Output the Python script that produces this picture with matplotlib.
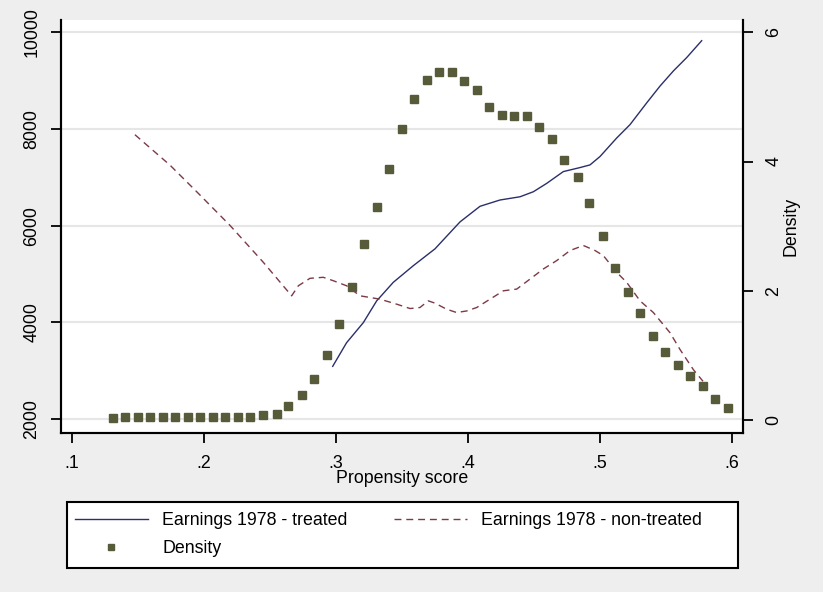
import matplotlib
matplotlib.use("Agg")
import matplotlib.pyplot as plt
from matplotlib.lines import Line2D
from matplotlib.patches import Rectangle

plt.rcParams['font.family'] = ['Liberation Sans', 'DejaVu Sans']

# earnings 1978, treated group (smoothed)
treat_x = [0.2975, 0.308, 0.3207, 0.3308, 0.3434, 0.3586, 0.375, 0.3939, 0.4091,
           0.4242, 0.4394, 0.4495, 0.4596, 0.4722, 0.4848, 0.4924, 0.5, 0.5126,
           0.5227, 0.5354, 0.5455, 0.5556, 0.5657, 0.577]
treat_y = [3089, 3577, 3993, 4443, 4827, 5172, 5520, 6076, 6400,
           6530, 6597, 6701, 6874, 7118, 7201, 7256, 7430, 7812,
           8089, 8541, 8889, 9201, 9478, 9826]

# earnings 1978, non-treated group
ctrl_x = [0.1477, 0.1742, 0.1945, 0.2197, 0.2449, 0.2664, 0.2715, 0.2803, 0.2904,
          0.298, 0.308, 0.3182, 0.3333, 0.346, 0.3561, 0.3636, 0.3699, 0.375,
          0.3838, 0.3914, 0.399, 0.4066, 0.4167, 0.4268, 0.4369, 0.447, 0.4571,
          0.4672, 0.4773, 0.4874, 0.4962, 0.5025, 0.5126, 0.5202, 0.5303, 0.5404,
          0.553, 0.5606, 0.5707, 0.578]
ctrl_y = [7881, 7253, 6701, 6005, 5243, 4548, 4756, 4910, 4931,
          4860, 4756, 4548, 4479, 4375, 4285, 4306, 4444, 4396,
          4271, 4202, 4235, 4306, 4479, 4652, 4687, 4895, 5104,
          5277, 5485, 5589, 5485, 5381, 5035, 4826, 4444, 4202,
          3785, 3437, 3021, 2780]

# kernel density of propensity score
dens_x = [0.131, 0.140, 0.150, 0.159, 0.169, 0.178, 0.188, 0.197, 0.207, 0.216,
          0.226, 0.235, 0.245, 0.255, 0.264, 0.274, 0.283, 0.293, 0.302, 0.312,
          0.321, 0.331, 0.340, 0.350, 0.359, 0.369, 0.378, 0.388, 0.397, 0.407,
          0.416, 0.426, 0.435, 0.445, 0.454, 0.464, 0.473, 0.483, 0.492, 0.502,
          0.511, 0.521, 0.530, 0.540, 0.549, 0.559, 0.568, 0.578, 0.587, 0.597]
dens_y = [0.03, 0.05, 0.05, 0.05, 0.04, 0.04, 0.04, 0.04, 0.05, 0.05,
          0.04, 0.05, 0.08, 0.10, 0.21, 0.39, 0.63, 1.00, 1.49, 2.06,
          2.72, 3.30, 3.88, 4.51, 4.97, 5.26, 5.39, 5.39, 5.25, 5.11,
          4.85, 4.72, 4.71, 4.71, 4.54, 4.35, 4.02, 3.76, 3.36, 2.85,
          2.35, 1.98, 1.66, 1.30, 1.05, 0.85, 0.68, 0.53, 0.32, 0.19]

x_ticks = [0.1, 0.2, 0.3, 0.4, 0.5, 0.6]
x_labels = ['.1', '.2', '.3', '.4', '.5', '.6']
left_ticks = [2000, 4000, 6000, 8000, 10000]
right_ticks = [0, 2, 4, 6]

bg = '#eeeeee'
navy = '#2a2f6a'
maroon = '#7c3a46'
olive = '#575b3a'
fs = 12.8

fig = plt.figure(figsize=(8.23, 5.92), dpi=100, facecolor=bg)
ax = fig.add_axes([61/823, 1 - 433/592, (743 - 61)/823, (433 - 20)/592])
ax.set_facecolor('white')

ax.plot(treat_x, treat_y, color=navy, lw=1.0, zorder=3)
ax.plot(ctrl_x, ctrl_y, color=maroon, lw=1.0, dashes=(5, 3.5), zorder=3)

ax.set_xlim(0.0917, 0.6083)
ax.set_ylim(1710, 10254)
ax.set_xticks(x_ticks)
ax.set_xticklabels(x_labels)
ax.set_yticks(left_ticks)
ax.set_yticklabels([str(v) for v in left_ticks], rotation=90, va='center')
ax.grid(axis='y', color='#e6e6e6', lw=1.5)
ax.set_axisbelow(True)
ax.tick_params(axis='both', direction='out', length=7, width=1.3, labelsize=fs)
ax.tick_params(axis='y', pad=8)
ax.tick_params(axis='x', pad=9)

ax2 = ax.twinx()
ax2.plot(dens_x, dens_y, ls='none', marker='s', ms=6, color=olive, zorder=4)
ax2.set_ylim(-0.201, 6.19)
ax2.set_yticks(right_ticks)
ax2.set_yticklabels([str(v) for v in right_ticks], rotation=90, va='center')
ax2.tick_params(axis='y', direction='out', length=7, width=1.3, labelsize=fs, pad=9)
ax2.set_ylabel('Density', fontsize=fs, labelpad=0)

for a in (ax, ax2):
    a.spines['top'].set_visible(False)
    for s in ('left', 'right', 'bottom'):
        a.spines[s].set_linewidth(1.5)

fig.text(402/823, 1 - 483/592, 'Propensity score', ha='center', va='baseline', fontsize=fs)

# legend box drawn by hand so the text can run to its edge like the original
box = Rectangle((67/823, 1 - 568/592), (738 - 67)/823, (568 - 502)/592,
                transform=fig.transFigure, facecolor='white', edgecolor='black',
                lw=1.5, zorder=1)
fig.patches.append(box)

handles = [Line2D([], [], color=navy, lw=1.0),
           Line2D([], [], ls='none', marker='s', ms=5, color=olive),
           Line2D([], [], color=maroon, lw=1.0, dashes=(5, 3.5))]
labels = ['Earnings 1978 - treated', 'Density', 'Earnings 1978 - non-treated']
leg = fig.legend(handles, labels, ncol=2, loc='upper left',
                 bbox_to_anchor=(75/823, 1 - 512/592), borderaxespad=0, borderpad=0,
                 fontsize=fs, handlelength=4.1, handletextpad=0.8,
                 labelspacing=0.64, columnspacing=2.6, frameon=False)
leg.set_zorder(2)

fig.savefig('out.png', dpi=100, facecolor=bg)
